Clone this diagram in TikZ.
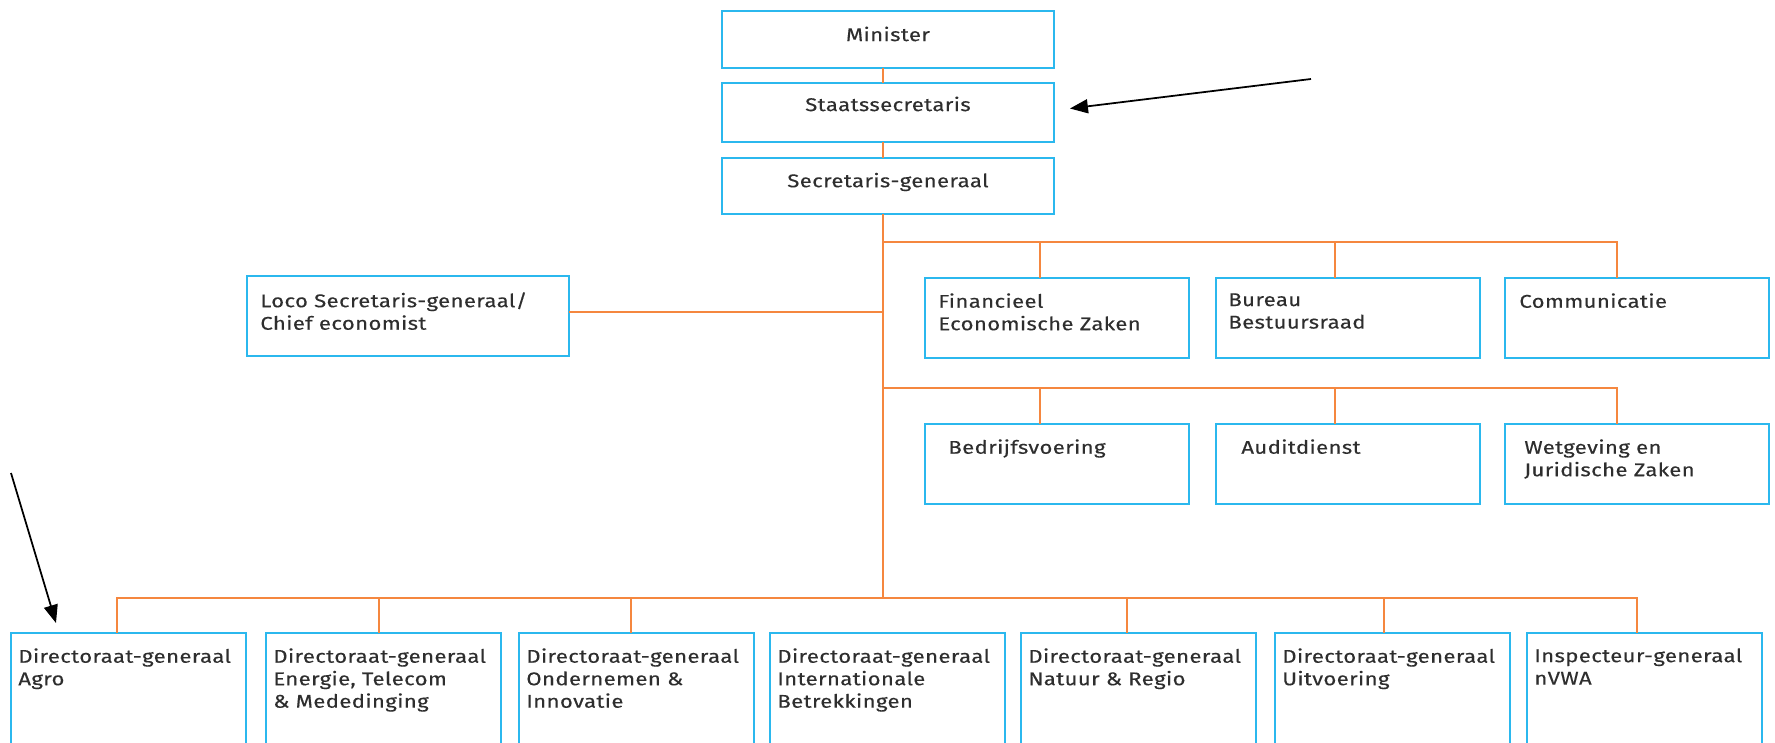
\documentclass[tikz,border=0pt]{standalone}
\usepackage{fontspec}
\setmainfont[FakeStretch=1.2,LetterSpace=2,FakeBold=0.25]{Fira Sans}
\usetikzlibrary{positioning}
\usetikzlibrary{arrows.meta}
\definecolor{boxblue}{HTML}{2BB8EE}
\definecolor{linkorange}{HTML}{F5873F}
\definecolor{inkgrey}{HTML}{2E2E2E}

\begin{document}
\begin{tikzpicture}[x=0.02cm, y=-0.02cm,
  unit/.style={draw=boxblue, line width=1.1pt, anchor=north west, inner sep=0pt, outer sep=0pt},
  topunit/.style={unit, minimum width=6.64cm},
  sideunit/.style={unit, minimum width=5.28cm, minimum height=1.6cm},
  dgunit/.style={unit, minimum width=4.7cm, minimum height=3.4cm},
  boxtext/.style={text=inkgrey, font=\fontsize{10.5}{12.8}\selectfont, inner sep=0pt},
  boxtextl/.style={boxtext, anchor=north west, align=left},
  link/.style={draw=linkorange, line width=1pt},
  pointer/.style={draw=black, line width=1pt, -{Triangle[length=0.36cm, width=0.28cm]}}]

  \useasboundingbox (0,0) rectangle (1775,743);
  \clip (0,0) rectangle (1775,743);

  % top of the chart
  \node[topunit, minimum height=1.14cm] (minister) at (722,11) {};
  \node[topunit, minimum height=1.18cm] (staats) at (722,83) {};
  \node[topunit, minimum height=1.12cm] (sg) at (722,158) {};
  \node[boxtext] (ministertxt) at ([shift={(0,23)}]minister.north) {Minister};
  \node[boxtext] (staatstxt) at ([shift={(0,21)}]staats.north) {Staatssecretaris};
  \node[boxtext] (sgtxt) at ([shift={(0,24)}]sg.north) {Secretaris-generaal};

  \node[unit, minimum width=6.44cm, minimum height=1.6cm] (loco) at (247,276) {};
  \node[boxtextl] (locotxt) at ([shift={(13,16)}]loco.north west) {Loco Secretaris-generaal/\\Chief economist};

  % staff units
  \node[sideunit] (fin) at (925,278) {};
  \node[sideunit] (bureau) at (1216,278) {};
  \node[sideunit] (comm) at (1505,278) {};
  \node[sideunit] (bedrijf) at (925,424) {};
  \node[sideunit] (audit) at (1216,424) {};
  \node[sideunit] (wetg) at (1505,424) {};
  \node[boxtextl] (fintxt) at ([shift={(13,15)}]fin.north west) {Financieel\\Economische Zaken};
  \node[boxtextl] (bureautxt) at ([shift={(12,15)}]bureau.north west) {Bureau\\Bestuursraad};
  \node[boxtextl] (commtxt) at ([shift={(14,15)}]comm.north west) {Communicatie};
  \node[boxtextl] (bedrijftxt) at ([shift={(23,15)}]bedrijf.north west) {Bedrijfsvoering};
  \node[boxtextl] (audittxt) at ([shift={(25,15)}]audit.north west) {Auditdienst};
  \node[boxtextl] (wetgtxt) at ([shift={(19,15)}]wetg.north west) {Wetgeving en\\Juridische Zaken};

  % directorates
  \node[dgunit] (agro) at (11,633) {};
  \node[dgunit] (energie) at (266,633) {};
  \node[dgunit] (onderne) at (519,633) {};
  \node[dgunit] (intern) at (770,633) {};
  \node[dgunit] (natuur) at (1021,633) {};
  \node[dgunit] (uitv) at (1275,633) {};
  \node[dgunit] (nvwa) at (1527,633) {};
  \node[boxtextl] (agrotxt) at ([shift={(7,15)}]agro.north west) {Directoraat-generaal\\Agro};
  \node[boxtextl] (energietxt) at ([shift={(7,15)}]energie.north west) {Directoraat-generaal\\Energie, Telecom\\\& Mededinging};
  \node[boxtextl] (ondernetxt) at ([shift={(7,15)}]onderne.north west) {Directoraat-generaal\\Ondernemen \&\\Innovatie};
  \node[boxtextl] (interntxt) at ([shift={(7,15)}]intern.north west) {Directoraat-generaal\\Internationale\\Betrekkingen};
  \node[boxtextl] (natuurtxt) at ([shift={(7,15)}]natuur.north west) {Directoraat-generaal\\Natuur \& Regio};
  \node[boxtextl] (uitvtxt) at ([shift={(7,15)}]uitv.north west) {Directoraat-generaal\\Uitvoering};
  \node[boxtextl] (nvwatxt) at ([shift={(7,15)}]nvwa.north west) {Inspecteur-generaal\\nVWA};

  % orange lines
  \coordinate (hub1) at (883,242);
  \coordinate (hub2) at (883,388);
  \coordinate (hub3) at (883,598);
  \coordinate (hubloco) at (883,312);
  \draw[link] (minister.south -| hub1) -- (staats.north -| hub1);
  \draw[link] (staats.south -| hub1) -- (sg.north -| hub1);
  \draw[link] (sg.south -| hub1) -- (hub3);
  \draw[link] (loco.east |- hubloco) -- (hubloco);

  \draw[link] (hub1) -| ([xshift=-0.4cm]comm.north);
  \draw[link] ([xshift=-0.34cm]fin.north) -- ([xshift=-0.34cm]fin.north |- hub1);
  \draw[link] ([xshift=-0.26cm]bureau.north) -- ([xshift=-0.26cm]bureau.north |- hub1);
  \draw[link] (hub2) -| ([xshift=-0.4cm]wetg.north);
  \draw[link] ([xshift=-0.34cm]bedrijf.north) -- ([xshift=-0.34cm]bedrijf.north |- hub2);
  \draw[link] ([xshift=-0.26cm]audit.north) -- ([xshift=-0.26cm]audit.north |- hub2);

  \draw[link] ([xshift=-0.23cm]agro.north) |- (hub3) -| ([xshift=-0.15cm]nvwa.north);
  \draw[link] ([xshift=-0.09cm]energie.north) -- ([xshift=-0.09cm]energie.north |- hub3);
  \draw[link] ([xshift=-0.11cm]onderne.north) -- ([xshift=-0.11cm]onderne.north |- hub3);
  \draw[link] ([xshift=-0.23cm]natuur.north) -- ([xshift=-0.23cm]natuur.north |- hub3);
  \draw[link] ([xshift=-0.17cm]uitv.north) -- ([xshift=-0.17cm]uitv.north |- hub3);

  % black pointers
  \coordinate (staatstail) at (1311,79);
  \coordinate (agrotail) at (11,473);
  \draw[pointer] (staatstail) -- ([shift={(16,-4)}]staats.east);
  \draw[pointer] (agrotail) -- ([shift={(45,-10)}]agro.north west);
\end{tikzpicture}
\end{document}
